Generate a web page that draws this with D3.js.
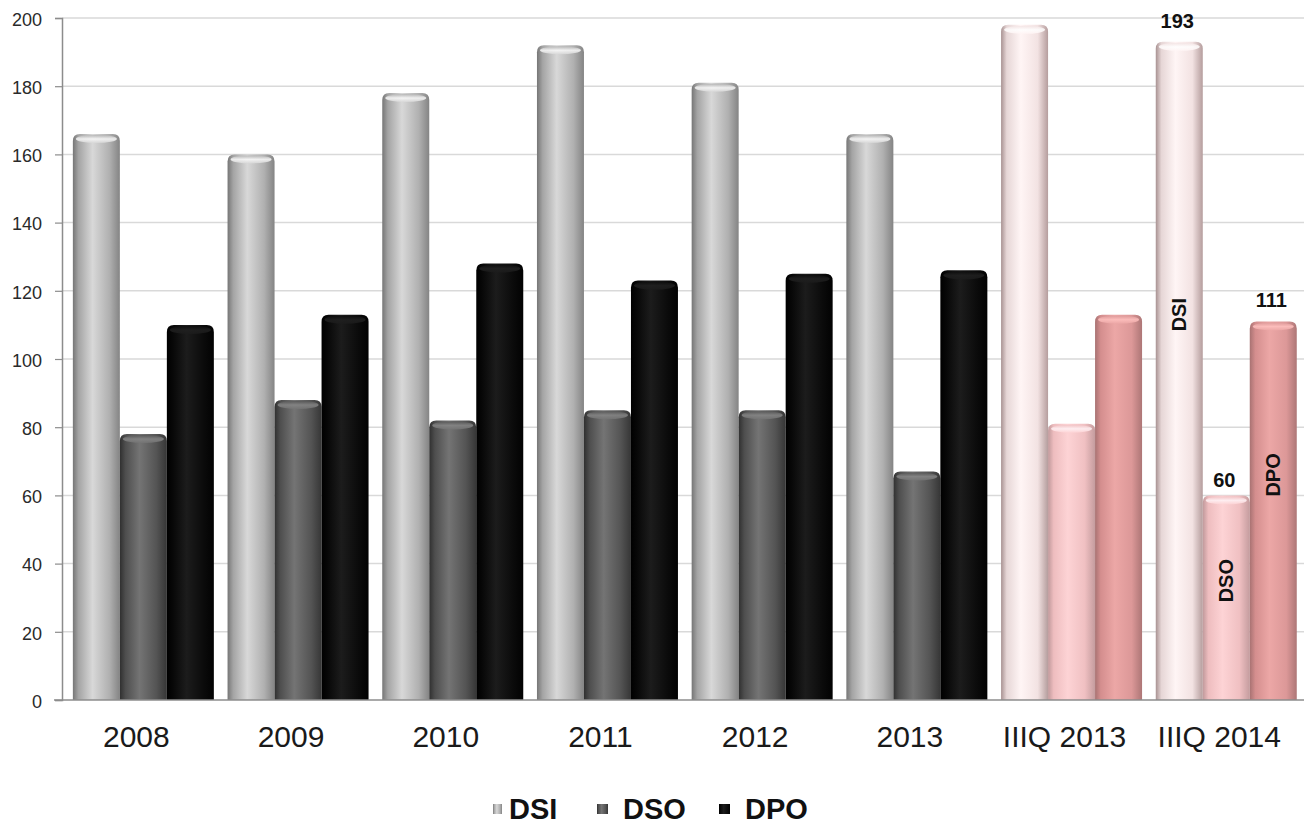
<!DOCTYPE html>
<html><head><meta charset="utf-8">
<script src="https://cdn.jsdelivr.net/npm/d3@7"></script>
<style>body{margin:0;background:#fff}svg{display:block;font-family:"Liberation Sans",Arial,sans-serif}</style>
</head><body>
<svg id="c" width="1304" height="828"></svg>
<script>
const categories = ["2008","2009","2010","2011","2012","2013","IIIQ 2013","IIIQ 2014"];
const seriesNames = ["DSI","DSO","DPO"];
const dsi = [166,160,178,192,181,166,198,193];
const dso = [78,88,82,85,85,67,81,60];
const dpo = [110,113,128,123,125,126,113,111];
const yTicks = [0,20,40,60,80,100,120,140,160,180,200];
const valueLabels = [{cat:"IIIQ 2014",s:"DSI",text:"193"},{cat:"IIIQ 2014",s:"DSO",text:"60"},{cat:"IIIQ 2014",s:"DPO",text:"111"}];
const nameLabels = [{cat:"IIIQ 2014",s:"DSI",at:113},{cat:"IIIQ 2014",s:"DSO",at:35},{cat:"IIIQ 2014",s:"DPO",at:66}];

(function(){
const values = {DSI:dsi, DSO:dso, DPO:dpo};
const svg = d3.select("#c");
const mLeft = 62, mRight = 1304, mTop = 18, mBottom = 700;

const y = d3.scaleLinear().domain([0,200]).range([mBottom, mTop]);
const x0 = d3.scaleBand().domain(categories).range([mLeft, mRight]).paddingInner(0.0886).paddingOuter(0.0585).align(0.6);
const x1 = d3.scaleBand().domain(seriesNames).range([0, x0.bandwidth()]);

const pal = {
  gray: {
    DSI: ["#767676","#a4a4a4","#d8d8d8","#b0b0b0","#848484"],
    DSO: ["#303030","#4e4e4e","#747474","#545454","#363636"],
    DPO: ["#000000","#070707","#1c1c1c","#0b0b0b","#020202"]
  },
  pink: {
    DSI: ["#a89292","#e6d6d6","#fff5f5","#f2e2e2","#b59d9d"],
    DSO: ["#c0999b","#eebdbf","#fdd3d5","#f0c0c2","#c49c9e"],
    DPO: ["#a87272","#d48e8e","#eca7a6","#dc9898","#ad7676"]
  }
};
const defs = svg.append("defs");
Object.entries(pal).forEach(([k, ss]) => {
  Object.entries(ss).forEach(([s, c]) => {
    const g = defs.append("linearGradient").attr("id", `g-${k}-${s}`).attr("x1",0).attr("x2",1).attr("y1",0).attr("y2",0);
    [[0,c[0]],[0.12,c[1]],[0.42,c[2]],[0.78,c[3]],[1,c[4]]].forEach(([o,col]) =>
      g.append("stop").attr("offset",o).attr("stop-color",col));
    const cg = defs.append("linearGradient").attr("id", `cap-${k}-${s}`).attr("x1",0).attr("x2",0).attr("y1",0).attr("y2",1);
    cg.append("stop").attr("offset",0).attr("stop-color",c[3]);
    cg.append("stop").attr("offset",0.5).attr("stop-color",d3.color(c[2]).brighter(0.4).formatHex());
    cg.append("stop").attr("offset",1).attr("stop-color",c[2]);
  });
});

svg.append("g").selectAll("line").data(yTicks.filter(d => d > 0)).join("line")
  .attr("x1", mLeft).attr("x2", mRight).attr("y1", d => y(d)).attr("y2", d => y(d))
  .attr("stroke", "#d9d9d9").attr("stroke-width", 1.5);

const yAxis = d3.axisLeft(y).tickValues(yTicks).tickSize(7).tickPadding(13).tickFormat(d3.format("d"));
const ya = svg.append("g").attr("transform", `translate(${mLeft},0)`).call(yAxis);
ya.select(".domain").attr("stroke", "#8c8c8c").attr("stroke-width", 1.5);
ya.selectAll(".tick line").attr("stroke", "#8c8c8c").attr("stroke-width", 1.2);
ya.selectAll(".tick text").attr("font-size", 18).attr("fill", "#2a2a2a").attr("dy", "0.4em")
  .attr("font-family", "Liberation Sans, Arial, sans-serif");

const groups = svg.append("g").selectAll("g").data(categories).join("g")
  .attr("transform", d => `translate(${x0(d)},0)`);
groups.each(function(cat, i) {
  const kind = cat.startsWith("IIIQ") ? "pink" : "gray";
  const g = d3.select(this);
  seriesNames.forEach(s => {
    const v = values[s][i];
    const bx = x1(s), bw = x1.bandwidth(), by = y(v), r = 7;
    const path = `M${bx},${mBottom} L${bx},${by + r} Q${bx},${by} ${bx + r},${by} L${bx + bw - r},${by} Q${bx + bw},${by} ${bx + bw},${by + r} L${bx + bw},${mBottom} Z`;
    g.append("path").attr("d", path).attr("fill", `url(#g-${kind}-${s})`);
    g.append("ellipse").attr("cx", bx + bw / 2).attr("cy", by + 5).attr("rx", bw / 2 - 3).attr("ry", 4)
      .attr("fill", `url(#cap-${kind}-${s})`).attr("opacity", 0.85);
  });
});

svg.append("line").attr("x1", mLeft - 8).attr("x2", mRight).attr("y1", mBottom).attr("y2", mBottom)
  .attr("stroke", "#8c8c8c").attr("stroke-width", 1.5);

svg.append("g").selectAll("text").data(categories).join("text")
  .attr("x", d => x0(d) + x0.bandwidth() / 2 - 7).attr("y", 747)
  .attr("text-anchor", "middle").attr("font-size", 30).attr("fill", "#1a1a1a").text(d => d);

const idx = c => categories.indexOf(c);
svg.append("g").selectAll("text").data(valueLabels).join("text")
  .attr("x", d => x0(d.cat) + x1(d.s) + x1.bandwidth() / 2 - 2)
  .attr("y", d => y(values[d.s][idx(d.cat)]) - (d.s === "DSO" ? 8 : 14))
  .attr("text-anchor", "middle").attr("font-size", 20).attr("font-weight", "bold").attr("fill", "#111")
  .text(d => d.text);

svg.append("g").selectAll("text").data(nameLabels).join("text")
  .attr("transform", d => `translate(${x0(d.cat) + x1(d.s) + x1.bandwidth() / 2 + 7},${y(d.at)}) rotate(-90)`)
  .attr("text-anchor", "middle").attr("font-size", 20).attr("font-weight", "bold").attr("fill", "#111")
  .text(d => d.s);

const legX = [493, 597, 719];
const lg = svg.append("g").selectAll("g").data(seriesNames).join("g")
  .attr("transform", (d, i) => `translate(${legX[i]},0)`);
lg.append("rect").attr("x", 0).attr("y", 804).attr("width", d => d === "DSI" ? 9 : 11).attr("height", 10)
  .attr("fill", d => `url(#g-gray-${d})`);
lg.append("text").attr("x", d => d === "DSI" ? 16 : 26).attr("y", 819).attr("font-size", 29)
  .attr("font-weight", "bold").attr("fill", "#111").text(d => d);
})();
</script>
</body></html>
